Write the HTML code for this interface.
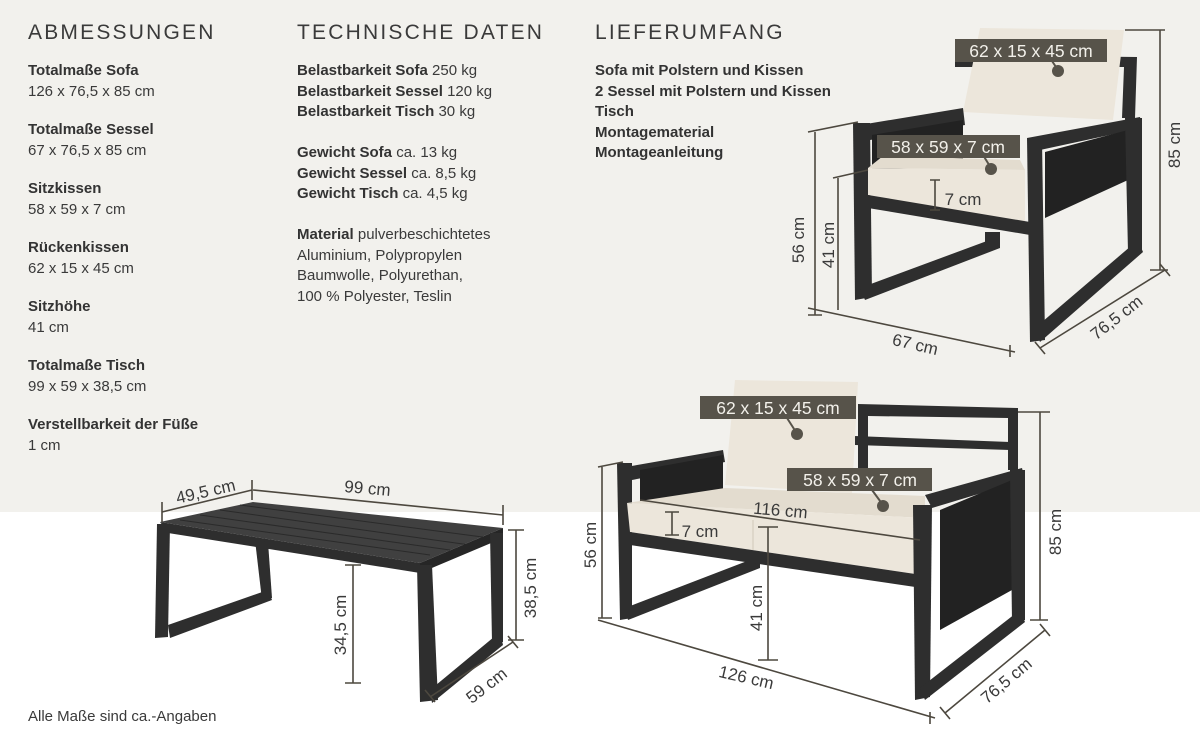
<!DOCTYPE html>
<html><head><meta charset="utf-8"><style>
body{margin:0;width:1200px;height:750px;overflow:hidden;background:#fff;font-family:"Liberation Sans",sans-serif;color:#3a3a3a}
.bg{position:absolute;left:0;top:0;width:1200px;height:512px;background:#f2f1ed}
.t{position:absolute;font-size:15px;line-height:20.5px}
.t b{font-weight:bold;color:#333}
h2{position:absolute;margin:0;font-weight:normal;font-size:21px;letter-spacing:2.2px;color:#3a3a3a;top:21px}
.blk{margin-bottom:18px}
svg{position:absolute;left:0;top:0}
</style></head><body>
<div class="bg"></div>
<h2 style="left:28px">ABMESSUNGEN</h2>
<h2 style="left:297px">TECHNISCHE DATEN</h2>
<h2 style="left:595px">LIEFERUMFANG</h2>
<div class="t" style="left:28px;top:61px">
<div class="blk"><b>Totalmaße Sofa</b><br>126 x 76,5 x 85 cm</div>
<div class="blk"><b>Totalmaße Sessel</b><br>67 x 76,5 x 85 cm</div>
<div class="blk"><b>Sitzkissen</b><br>58 x 59 x 7 cm</div>
<div class="blk"><b>Rückenkissen</b><br>62 x 15 x 45 cm</div>
<div class="blk"><b>Sitzhöhe</b><br>41 cm</div>
<div class="blk"><b>Totalmaße Tisch</b><br>99 x 59 x 38,5 cm</div>
<div class="blk"><b>Verstellbarkeit der Füße</b><br>1 cm</div>
</div>
<div class="t" style="left:297px;top:61px">
<b>Belastbarkeit Sofa</b> 250 kg<br><b>Belastbarkeit Sessel</b> 120 kg<br><b>Belastbarkeit Tisch</b> 30 kg<br><br>
<b>Gewicht Sofa</b> ca. 13 kg<br><b>Gewicht Sessel</b> ca. 8,5 kg<br><b>Gewicht Tisch</b> ca. 4,5 kg<br><br>
<b>Material</b> pulverbeschichtetes<br>Aluminium, Polypropylen<br>Baumwolle, Polyurethan,<br>100 % Polyester, Teslin
</div>
<div class="t" style="left:595px;top:61px"><b>Sofa mit Polstern und Kissen<br>2 Sessel mit Polstern und Kissen<br>Tisch<br>Montagematerial<br>Montageanleitung</b></div>
<div class="t" style="left:28px;top:707px">Alle Maße sind ca.-Angaben</div>

<svg width="1200" height="750" viewBox="0 0 1200 750">
<g fill="#2e2e2e" stroke="none">
<!-- TABLE -->
<polygon points="160,522 253,502 503,528 420,563" fill="#404040"/>
<g stroke="#2a2a2a" stroke-width="1"><line x1="180" y1="520" x2="430" y2="555"/><line x1="200" y1="515" x2="450" y2="550"/><line x1="220" y1="510" x2="470" y2="545"/><line x1="240" y1="505" x2="490" y2="538"/></g>
<polygon points="160,522 420,563 420,573 168,533"/>
<polygon points="420,563 503,528 503,538 420,573" fill="#262626"/>
<polygon points="255,540 268,542 272,598 262,600"/>
<polygon points="157,524 170,524 168,637 155,638"/>
<polygon points="168,625 268,590 272,600 170,638"/>
<polygon points="490,533 503,533 503,642 492,642"/>
<polygon points="417,565 432,565 438,700 420,702"/>
<polygon points="430,690 500,632 503,645 432,703"/>
<!-- ARMCHAIR -->
<polygon points="955,55 1137,57 1135,118 1122,118 1124,67 955,67"/>
<polygon points="980,28 1124,30 1113,120 963,112" fill="#ece6db"/>
<polygon points="860,125 963,108 965,125 870,140"/>
<polygon points="872,135 963,120 963,165 872,170" fill="#222"/>
<polygon points="853,123 870,123 872,297 855,300"/>
<polygon points="860,288 995,238 1000,248 865,300"/>
<polygon points="985,232 1000,232 1000,248 985,248"/>
<polygon points="868,168 883,156 1020,160 1025,170" fill="#e3dccf"/>
<polygon points="868,168 1025,170 1025,222 868,195" fill="#ece6db"/>
<polygon points="868,195 1030,222 1030,235 868,208"/>
<polygon points="1027,138 1140,117 1142,128 1040,150"/>
<polygon points="1045,152 1128,130 1128,180 1045,218" fill="#222"/>
<polygon points="1125,118 1142,118 1142,250 1128,252"/>
<polygon points="1027,138 1042,140 1045,340 1030,342"/>
<polygon points="1035,328 1138,240 1143,252 1040,342"/>
<!-- SOFA -->
<polygon points="858,404 1018,408 1018,470 1008,470 1008,418 868,416 868,470 858,470"/>
<polygon points="855,436 1010,442 1010,450 855,445"/>
<polygon points="735,380 858,382 852,493 725,485" fill="#ece6db"/>
<polygon points="620,468 723,450 725,462 632,480"/>
<polygon points="640,470 723,455 723,495 640,502" fill="#222"/>
<polygon points="617,463 632,463 632,618 620,620"/>
<polygon points="625,608 755,558 760,568 628,620"/>
<polygon points="748,552 760,552 760,568 748,568"/>
<polygon points="627,503 725,488 925,496 925,518" fill="#e3dccf"/>
<polygon points="627,503 925,518 922,575 630,532" fill="#ece6db"/>
<line x1="753" y1="520" x2="753" y2="550" stroke="#cfc8ba" stroke-width="1"/>
<polygon points="630,532 922,575 922,588 630,545"/>
<polygon points="925,495 1022,468 1025,480 932,508"/>
<polygon points="940,510 1012,480 1012,590 940,630" fill="#222"/>
<polygon points="1010,470 1025,470 1025,620 1012,622"/>
<polygon points="913,505 932,505 930,697 915,700"/>
<polygon points="920,688 1020,610 1025,622 925,700"/>
</g>
<!-- dimension lines -->
<g stroke="#4d483f" stroke-width="1.6" fill="none">
<path d="M162,512 L252,490 M162,502 v20 M252,480 v20"/>
<path d="M253,490 L503,515 M503,505 v20"/>
<path d="M516,530 V640 M508,530 h16 M508,640 h16"/>
<path d="M353,565 V683 M345,565 h16 M345,683 h16"/>
<path d="M430,697 L513,642 M425,690 l10,12 M508,636 l10,12"/>
<path d="M1160,30 V270 M1125,30 h40 M1150,270 h18"/>
<path d="M815,132 V315 M808,132 l50,-10 M808,315 h14"/>
<path d="M838,178 V310 M833,178 l35,-8"/>
<path d="M808,308 L1015,352 M1010,345 v12"/>
<path d="M1040,348 L1165,270 M1035,342 l10,12 M1160,264 l10,12"/>
<path d="M935,180 V210 M930,180 h10 M930,210 h10"/>
<path d="M1040,412 V620 M1018,412 h32 M1030,620 h18"/>
<path d="M602,467 V618 M598,467 l25,-5 M598,618 h14"/>
<path d="M768,527 V660 M758,527 h20 M758,660 h20"/>
<path d="M672,512 V535 M665,512 h14 M665,535 h14"/>
<path d="M640,500 L920,540"/>
<path d="M598,620 L935,718 M930,712 v12"/>
<path d="M945,713 L1045,630 M940,707 l10,12 M1040,624 l10,12"/>
</g>
<g fill="#3a3a3a" font-family="Liberation Sans, sans-serif" font-size="17" text-anchor="middle">
<text x="207" y="497" transform="rotate(-13 207 497)">49,5 cm</text>
<text x="367" y="494" transform="rotate(5 367 494)">99 cm</text>
<text transform="translate(536 588) rotate(-90)">38,5 cm</text>
<text transform="translate(346 625) rotate(-90)">34,5 cm</text>
<text x="490" y="690" transform="rotate(-38 490 690)">59 cm</text>
<text transform="translate(1180 145) rotate(-90)">85 cm</text>
<text transform="translate(804 240) rotate(-90)">56 cm</text>
<text transform="translate(834 245) rotate(-90)">41 cm</text>
<text x="914" y="350" transform="rotate(13 914 350)">67 cm</text>
<text x="1120" y="322" transform="rotate(-38 1120 322)">76,5 cm</text>
<text x="963" y="205">7 cm</text>
<text transform="translate(1061 532) rotate(-90)">85 cm</text>
<text transform="translate(596 545) rotate(-90)">56 cm</text>
<text transform="translate(762 608) rotate(-90)">41 cm</text>
<text x="700" y="537">7 cm</text>
<text x="780" y="516" transform="rotate(5 780 516)">116 cm</text>
<text x="745" y="683" transform="rotate(13 745 683)">126 cm</text>
<text x="1010" y="685" transform="rotate(-40 1010 685)">76,5 cm</text>
</g>
<!-- labels -->
<g font-family="Liberation Sans, sans-serif" font-size="17.5" fill="#f2f0ea" text-anchor="middle">
<line x1="1050" y1="58" x2="1058" y2="70" stroke="#57534a" stroke-width="2"/><circle cx="1058" cy="71" r="6" fill="#57534a"/>
<rect x="955" y="39" width="152" height="23" fill="#57534a"/><text x="1031" y="57">62 x 15 x 45 cm</text>
<line x1="983" y1="155" x2="991" y2="168" stroke="#57534a" stroke-width="2"/><circle cx="991" cy="169" r="6" fill="#57534a"/>
<rect x="877" y="135" width="143" height="23" fill="#57534a"/><text x="948" y="153">58 x 59 x 7 cm</text>
<line x1="787" y1="418" x2="796" y2="432" stroke="#57534a" stroke-width="2"/><circle cx="797" cy="434" r="6" fill="#57534a"/>
<rect x="700" y="396" width="156" height="23" fill="#57534a"/><text x="778" y="414">62 x 15 x 45 cm</text>
<line x1="872" y1="490" x2="883" y2="505" stroke="#57534a" stroke-width="2"/><circle cx="883" cy="506" r="6" fill="#57534a"/>
<rect x="787" y="468" width="145" height="23" fill="#57534a"/><text x="860" y="486">58 x 59 x 7 cm</text>
</g>
</svg>
</body></html>
